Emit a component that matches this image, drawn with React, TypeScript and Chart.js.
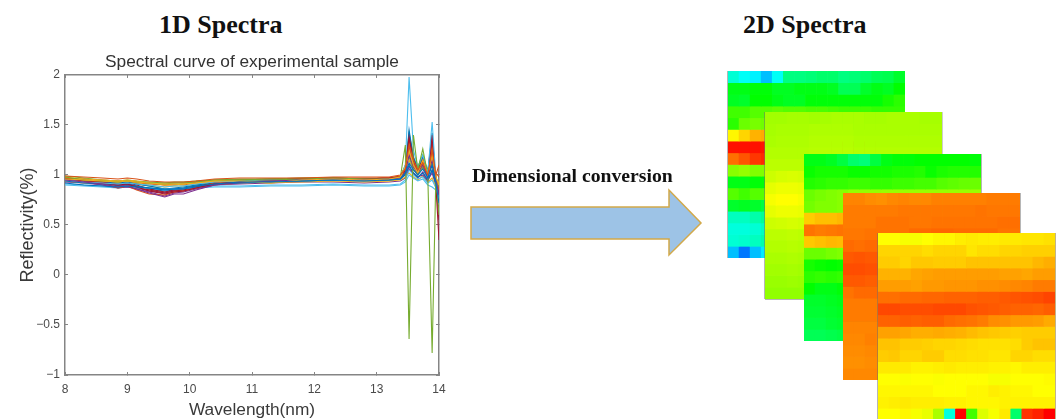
import React, { useEffect, useRef } from "react";
import { Chart, registerables } from "chart.js";

Chart.register(...registerables);

const wavelengths = [8, 8.3, 8.6, 8.85, 9, 9.15, 9.35, 9.6, 9.75, 9.9, 10.1, 10.4, 10.8, 11.3, 11.8, 12.3, 12.8, 13.2, 13.38, 13.46, 13.52, 13.59, 13.66, 13.74, 13.82, 13.89, 13.95, 14];

const lineColors = ["#0072BD", "#D95319", "#EDB120", "#7E2F8E", "#77AC30", "#4DBEEE", "#A2142F"];

const spectra: number[][] = [
  [.92, .90, .89, .88, .89, .88, .87, .86, .86, .87, .89, .91, .93, .93, .94, .95, .94, .95, .96, 1.02, 1.12, 1.05, 1.0, 1.06, .97, 1.1, .92, .72],
  [.99, .98, .97, .96, .97, .96, .94, .93, .93, .93, .94, .96, .97, .97, .97, .98, .98, .98, 1.0, 1.06, 1.3, 1.15, 1.05, 1.12, 1.0, 1.25, 1.0, 1.1],
  [.96, .95, .94, .93, .94, .93, .92, .91, .91, .91, .92, .94, .94, .92, .95, .96, .95, .96, .98, 1.08, 1.25, 1.1, 1.02, 1.15, 1.0, 1.2, .98, .9],
  [.95, .93, .91, .88, .89, .86, .82, .78, .81, .81, .85, .90, .93, .94, .95, .96, .95, .96, .97, 1.02, 1.2, 1.08, 1.02, 1.1, .98, 1.15, .95, .8],
  [.98, .95, .94, .93, .94, .93, .92, .91, .92, .92, .93, .95, .95, .95, .96, .97, .96, .96, .98, 1.3, -.64, 1.4, 1.05, 1.26, 1.0, -.78, 1.0, .6],
  [.95, .93, .92, .91, .92, .91, .90, .88, .89, .89, .91, .93, .94, .95, .95, .95, .95, .96, .97, 1.1, 1.98, 1.25, 1.08, 1.2, 1.02, 1.53, .98, .7],
  [.96, .94, .92, .90, .91, .88, .84, .81, .83, .84, .87, .91, .93, .95, .96, .96, .96, .97, .98, 1.05, 1.38, 1.15, 1.05, 1.15, 1.0, 1.4, .9, .35],
  [.94, .92, .91, .90, .91, .89, .87, .85, .86, .86, .88, .91, .92, .93, .94, .95, .95, .95, .96, 1.0, 1.1, 1.02, .98, 1.02, .95, 1.05, .9, .78],
  [.97, .95, .92, .87, .89, .85, .81, .80, .83, .84, .87, .92, .94, .95, .95, .96, .96, .97, .99, 1.08, 1.32, 1.12, 1.04, 1.13, .99, 1.28, .96, .85],
  [.98, .96, .95, .94, .95, .94, .92, .90, .90, .91, .92, .94, .93, .92, .94, .96, .94, .94, .97, 1.06, 1.22, 1.08, 1.02, 1.1, 1.0, 1.18, .97, .92],
  [.95, .93, .90, .87, .88, .86, .83, .79, .82, .83, .86, .90, .92, .94, .95, .96, .95, .96, .97, 1.04, 1.28, 1.1, 1.03, 1.12, .97, 1.22, .94, .82],
  [.99, .97, .95, .94, .95, .94, .93, .92, .93, .93, .94, .95, .95, .96, .96, .97, .96, .96, .98, 1.1, 1.18, 1.06, 1.0, 1.08, .98, 1.12, .96, .88],
  [.90, .89, .88, .87, .88, .87, .87, .86, .86, .87, .87, .88, .88, .89, .89, .90, .89, .89, .90, .93, 1.0, .97, .94, .96, .90, .88, .85, .75],
  [.96, .94, .93, .90, .91, .88, .85, .82, .84, .85, .88, .92, .94, .95, .96, .97, .96, .97, .98, 1.06, 1.35, 1.14, 1.06, 1.14, 1.0, 1.32, .93, .6],
  [.95, .94, .93, .92, .93, .91, .89, .86, .87, .88, .90, .92, .93, .94, .95, .95, .95, .96, .97, 1.04, 1.45, 1.17, 1.07, 1.18, 1.03, 1.42, .92, .76],
  [.97, .96, .95, .94, .94, .93, .92, .90, .90, .91, .93, .94, .95, .95, .96, .96, .96, .97, .99, 1.08, 1.26, 1.12, 1.03, 1.1, 1.0, 1.2, 1.02, .98],
  [.96, .95, .94, .92, .93, .92, .90, .88, .89, .89, .91, .93, .93, .93, .95, .96, .96, .96, .97, 1.03, 1.15, 1.05, 1.01, 1.08, .98, 1.1, .95, .9],
  [.96, .94, .92, .89, .90, .87, .84, .82, .84, .84, .87, .91, .93, .95, .96, .96, .96, .96, .97, 1.0, 1.08, 1.02, .98, 1.0, .94, 1.05, .92, .84],
  [.97, .95, .94, .93, .94, .93, .92, .92, .92, .92, .93, .95, .96, .96, .97, .97, .96, .96, .98, 1.05, 1.22, 1.1, 1.03, 1.12, .99, 1.16, .97, .86],
  [.91, .90, .89, .88, .89, .88, .87, .85, .86, .86, .88, .89, .89, .90, .90, .91, .90, .90, .91, .95, 1.05, 1.0, .96, .98, .92, .95, .87, .78],
  [.96, .94, .93, .91, .92, .90, .86, .83, .85, .86, .88, .92, .94, .95, .96, .96, .96, .97, .98, 1.05, 1.3, 1.12, 1.04, 1.16, 1.0, 1.36, .92, .55],
  [.95, .93, .92, .90, .91, .89, .86, .84, .85, .86, .89, .92, .93, .94, .94, .95, .94, .95, .96, 1.02, 1.4, 1.16, 1.05, 1.17, 1.0, 1.3, .94, .8],
  [.97, .96, .94, .93, .93, .92, .91, .90, .91, .90, .92, .94, .95, .96, .97, .97, .97, .97, .98, 1.09, 1.36, 1.13, 1.06, 1.14, 1.02, 1.26, .97, .87],
  [.94, .92, .91, .89, .90, .88, .85, .83, .84, .85, .87, .90, .92, .93, .93, .94, .93, .94, .95, .98, 1.02, .98, .95, .99, .93, .97, .88, .8],
  [.93, .92, .90, .89, .90, .88, .87, .85, .85, .86, .88, .90, .91, .92, .93, .93, .92, .93, .94, .97, 1.06, 1.01, .97, 1.03, .95, 1.02, .9, .74],
  [.96, .95, .93, .91, .92, .91, .89, .86, .86, .87, .90, .93, .95, .96, .96, .97, .96, .97, .98, 1.07, 1.42, 1.18, 1.08, 1.2, 1.04, 1.38, .95, .83],
];

// Heatmap cell values: hue in degrees, row by row from the top
const stackA: number[][] = [
  [170, 178, 183, 195, 178, 150, 150, 148, 145, 145, 150, 148, 145, 140, 138, 130],
  [125, 125, 122, 122, 128, 128, 125, 125, 125, 128, 140, 140, 130, 125, 128, 120],
  [128, 130, 120, 120, 125, 128, 128, 122, 122, 122, 122, 122, 122, 122, 115, 110],
  [105, 105, 100, 100, 98, 100, 100, 102, 102, 104, 106, 106, 106, 108, 108, 108],
  [110, 95, 92, 94, 96, 96, 98, 98, 100, 100, 100, 102, 102, 102, 104, 104],
  [58, 50, 42, 40, 44, 46, 48, 50, 52, 52, 54, 54, 56, 56, 58, 58],
  [4, 4, 4, 5, 3, 4, 4, 4, 5, 5, 6, 6, 6, 8, 8, 8],
  [26, 20, 13, 10, 10, 12, 12, 14, 14, 16, 16, 18, 18, 20, 20, 22],
  [88, 85, 90, 90, 92, 92, 94, 94, 94, 96, 96, 98, 98, 100, 100, 100],
  [125, 125, 122, 122, 120, 120, 120, 118, 118, 118, 116, 116, 116, 115, 115, 115],
  [100, 105, 100, 100, 102, 102, 104, 104, 104, 106, 106, 106, 108, 108, 108, 108],
  [130, 128, 130, 135, 132, 132, 130, 130, 128, 128, 128, 126, 126, 126, 125, 125],
  [165, 165, 160, 155, 155, 152, 152, 150, 150, 148, 148, 146, 146, 145, 145, 144],
  [172, 172, 170, 165, 165, 162, 162, 160, 160, 158, 158, 156, 156, 155, 155, 154],
  [170, 168, 165, 160, 160, 158, 158, 156, 156, 154, 154, 152, 152, 150, 150, 150],
  [195, 212, 195, 185, 180, 178, 176, 176, 175, 175, 174, 174, 172, 172, 170, 170],
];
const stackB: number[][] = [
  [82, 82, 81, 81, 82, 81, 80, 80, 80, 81, 81, 80, 80, 80, 81, 81],
  [81, 80, 80, 80, 79, 79, 79, 79, 80, 80, 80, 80, 80, 80, 80, 80],
  [80, 79, 79, 79, 78, 78, 78, 78, 79, 79, 79, 79, 79, 79, 79, 79],
  [78, 78, 78, 78, 77, 77, 77, 77, 78, 78, 78, 78, 78, 78, 78, 78],
  [76, 76, 76, 76, 76, 76, 76, 76, 77, 77, 77, 77, 77, 77, 77, 77],
  [72, 70, 69, 70, 72, 72, 74, 74, 74, 74, 75, 75, 75, 75, 75, 75],
  [66, 64, 64, 65, 68, 68, 70, 70, 71, 71, 72, 72, 72, 72, 73, 73],
  [62, 60, 60, 62, 65, 65, 68, 68, 69, 69, 70, 70, 70, 70, 71, 71],
  [66, 64, 64, 65, 68, 68, 70, 70, 71, 71, 72, 72, 72, 72, 73, 73],
  [72, 71, 70, 71, 72, 72, 74, 74, 74, 74, 75, 75, 75, 75, 75, 75],
  [76, 76, 75, 76, 76, 76, 77, 77, 77, 77, 78, 78, 78, 78, 78, 78],
  [78, 78, 77, 78, 78, 78, 79, 79, 79, 79, 80, 80, 80, 80, 80, 80],
  [80, 80, 79, 80, 80, 80, 81, 81, 81, 81, 82, 82, 82, 82, 82, 82],
  [82, 82, 81, 82, 82, 82, 83, 83, 83, 83, 84, 84, 84, 84, 84, 84],
  [84, 84, 83, 84, 84, 84, 85, 85, 85, 85, 86, 86, 86, 86, 86, 86],
  [86, 86, 86, 86, 86, 86, 87, 87, 87, 87, 88, 88, 88, 88, 88, 88],
];
const stackC: number[][] = [
  [125, 125, 128, 135, 145, 148, 135, 125, 122, 122, 120, 120, 120, 120, 120, 122],
  [118, 115, 115, 115, 118, 118, 116, 116, 114, 114, 112, 118, 114, 112, 112, 112],
  [112, 110, 108, 108, 106, 106, 108, 108, 106, 106, 104, 104, 100, 98, 96, 95],
  [95, 92, 90, 88, 85, 85, 85, 84, 84, 84, 84, 84, 84, 84, 84, 84],
  [93, 90, 90, 88, 86, 86, 86, 86, 86, 86, 86, 86, 86, 86, 86, 86],
  [48, 45, 45, 43, 43, 44, 44, 44, 45, 45, 46, 46, 46, 46, 47, 47],
  [27, 29, 28, 27, 25, 26, 26, 26, 27, 27, 28, 28, 28, 28, 29, 29],
  [47, 45, 43, 44, 44, 44, 44, 45, 45, 45, 46, 46, 46, 47, 47, 47],
  [95, 95, 92, 90, 90, 90, 92, 92, 92, 94, 94, 94, 94, 96, 96, 96],
  [115, 118, 120, 118, 118, 118, 118, 116, 116, 116, 116, 114, 114, 114, 114, 114],
  [110, 108, 110, 108, 108, 108, 110, 110, 110, 110, 110, 112, 112, 112, 112, 112],
  [120, 125, 125, 122, 122, 122, 122, 120, 120, 120, 120, 120, 118, 118, 118, 118],
  [130, 130, 128, 126, 126, 126, 125, 125, 125, 124, 124, 124, 124, 122, 122, 122],
  [132, 132, 130, 128, 128, 128, 128, 126, 126, 126, 126, 125, 125, 125, 125, 125],
  [135, 135, 132, 130, 130, 130, 130, 128, 128, 128, 128, 126, 126, 126, 126, 126],
  [140, 140, 138, 136, 136, 136, 134, 134, 134, 132, 132, 132, 130, 130, 130, 130],
];
const stackD: number[][] = [
  [31, 31, 33, 34, 32, 31, 32, 32, 30, 30, 30, 30, 30, 29, 29, 29],
  [29, 29, 29, 29, 29, 28, 28, 28, 28, 28, 28, 28, 27, 28, 28, 28],
  [29, 29, 29, 27, 27, 27, 28, 28, 27, 27, 27, 27, 27, 27, 26, 26],
  [28, 28, 27, 27, 27, 27, 25, 25, 24, 24, 25, 25, 25, 25, 27, 27],
  [25, 26, 25, 25, 25, 25, 25, 25, 25, 25, 25, 25, 25, 25, 25, 25],
  [21, 20, 21, 21, 21, 21, 21, 21, 22, 22, 22, 22, 23, 23, 23, 23],
  [18, 18, 19, 19, 19, 19, 20, 20, 20, 20, 20, 20, 20, 21, 21, 21],
  [21, 21, 22, 22, 22, 22, 22, 22, 23, 23, 23, 24, 24, 24, 24, 24],
  [27, 25, 25, 25, 25, 26, 26, 26, 27, 27, 27, 27, 28, 28, 28, 28],
  [29, 29, 29, 29, 29, 29, 29, 30, 30, 30, 30, 30, 30, 30, 30, 30],
  [29, 29, 29, 29, 30, 30, 30, 30, 30, 30, 31, 31, 31, 31, 31, 31],
  [31, 31, 31, 31, 31, 31, 32, 32, 32, 32, 32, 32, 32, 32, 32, 32],
  [32, 32, 30, 31, 31, 32, 32, 32, 32, 32, 33, 33, 33, 33, 33, 33],
  [33, 33, 32, 32, 32, 32, 32, 33, 33, 33, 33, 33, 33, 33, 33, 33],
  [34, 34, 33, 33, 33, 33, 33, 33, 33, 34, 34, 34, 34, 34, 34, 34],
  [32, 32, 32, 32, 32, 32, 32, 33, 33, 33, 33, 33, 33, 33, 33, 33],
];
const stackE: number[][] = [
  [60, 60, 62, 62, 60, 58, 58, 56, 55, 56, 56, 55, 55, 54, 54, 53],
  [50, 50, 50, 50, 52, 50, 50, 50, 54, 52, 52, 50, 50, 49, 49, 49],
  [48, 48, 50, 47, 47, 48, 48, 48, 46, 46, 46, 46, 46, 46, 43, 41],
  [42, 42, 42, 39, 38, 37, 37, 37, 37, 37, 37, 38, 38, 39, 37, 37],
  [37, 37, 37, 38, 36, 36, 35, 35, 35, 34, 34, 33, 32, 31, 29, 29],
  [26, 26, 25, 25, 24, 24, 23, 23, 23, 22, 22, 21, 20, 19, 18, 16],
  [17, 17, 18, 18, 18, 17, 17, 17, 19, 20, 21, 22, 23, 23, 24, 22],
  [23, 23, 22, 23, 22, 22, 25, 26, 27, 29, 33, 34, 36, 36, 37, 40],
  [38, 38, 39, 41, 41, 40, 41, 42, 44, 46, 47, 48, 49, 48, 48, 48],
  [46, 46, 48, 48, 49, 50, 50, 51, 52, 53, 53, 53, 52, 48, 46, 46],
  [48, 47, 50, 50, 48, 48, 52, 52, 53, 53, 54, 54, 50, 50, 52, 52],
  [55, 55, 55, 57, 57, 56, 55, 56, 56, 56, 57, 57, 58, 56, 56, 56],
  [60, 60, 61, 60, 60, 61, 60, 60, 60, 60, 62, 62, 60, 60, 60, 59],
  [58, 58, 58, 58, 58, 60, 60, 60, 58, 58, 56, 57, 58, 58, 60, 60],
  [57, 56, 55, 56, 56, 56, 57, 57, 58, 58, 58, 57, 57, 57, 57, 57],
  [60, 60, 58, 62, 65, 80, 172, 0, 105, 68, 62, 55, 145, 12, 8, 0],
];

const GREY_EDGE = "rgba(110,110,110,0.5)";
const stacks = [
  { cells: stackA, left: 728, top: 71, edge: `-1px 0 0 ${GREY_EDGE}` },
  { cells: stackB, left: 765, top: 112, edge: `-1px 0 0 ${GREY_EDGE}, 1px 0 0 rgba(110,110,110,0.35), 0 1px 0 ${GREY_EDGE}` },
  { cells: stackC, left: 804, top: 154, edge: `1px 0 0 ${GREY_EDGE}` },
  { cells: stackD, left: 843, top: 193, edge: `1px 0 0 ${GREY_EDGE}` },
  { cells: stackE, left: 878, top: 233, edge: `-1px 0 0 ${GREY_EDGE}, 1px 0 0 rgba(150,130,60,0.6)` },
];

const AXIS = "#858585";
const TICK_TEXT = "#4a4a4a";
const SANS = "'Liberation Sans', Arial, sans-serif";
const SERIF = "'Liberation Serif', 'Times New Roman', serif";

function SpectraChart() {
  const ref = useRef<HTMLCanvasElement>(null);
  useEffect(() => {
    const chart = new Chart(ref.current!, {
      type: "line",
      data: {
        labels: wavelengths,
        datasets: spectra.map((values, i) => ({
          data: values.map((y, k) => ({ x: wavelengths[k], y })),
          borderColor: lineColors[i % lineColors.length],
          borderWidth: 1.1,
          pointRadius: 0,
          tension: 0,
        })),
      },
      options: {
        responsive: false,
        animation: false,
        layout: { padding: 0 },
        plugins: {
          legend: { display: false },
          tooltip: { enabled: false },
          title: {
            display: true,
            text: "Spectral curve of experimental sample",
            color: "#333",
            font: { family: SANS, size: 17.3, weight: "normal" },
            padding: { top: 52.2, bottom: 2 },
          },
        },
        scales: {
          x: {
            type: "linear",
            min: 8,
            max: 14,
            position: "bottom",
            afterFit: (s: any) => { s.height = 46; },
            border: { color: AXIS, width: 1.5 },
            grid: { drawOnChartArea: false, tickLength: -3, color: AXIS },
            ticks: { stepSize: 1, padding: 10.5, maxRotation: 0, color: TICK_TEXT, font: { family: SANS, size: 12 } },
            title: { display: true, text: "Wavelength(nm)", color: "#3a3a3a", font: { family: SANS, size: 17.3 }, padding: 0 },
          },
          x2: {
            type: "linear",
            min: 8,
            max: 14,
            position: "top",
            afterFit: (s: any) => { s.height = 0; },
            border: { color: AXIS, width: 1.5 },
            grid: { drawOnChartArea: false, tickLength: -3, color: AXIS },
            ticks: { stepSize: 1, display: false },
          },
          y: {
            type: "linear",
            min: -1,
            max: 2,
            position: "left",
            afterFit: (s: any) => { s.width = 65; },
            border: { color: AXIS, width: 1.5 },
            grid: { drawOnChartArea: false, tickLength: -3, color: AXIS },
            ticks: {
              stepSize: 0.5,
              padding: 8,
              color: TICK_TEXT,
              font: { family: SANS, size: 12 },
              callback: (v: any) => String(v).replace("-", "\u2212"),
            },
            title: { display: true, text: "Reflectivity(%)", color: "#3a3a3a", font: { family: SANS, size: 18 }, padding: { top: 17, bottom: 0 } },
          },
          y2: {
            type: "linear",
            min: -1,
            max: 2,
            position: "right",
            afterFit: (s: any) => { s.width = 65; },
            border: { color: AXIS, width: 1.5 },
            grid: { drawOnChartArea: false, tickLength: -3, color: AXIS },
            ticks: { stepSize: 0.5, display: false },
          },
        },
      },
    } as any);
    return () => chart.destroy();
  }, []);
  return (
    <canvas
      ref={ref}
      width={504}
      height={421}
      style={{ position: "absolute", left: 0, top: 0, filter: "blur(0.7px)" }}
    />
  );
}

function CellStack({ cells, left, top, z, edge }: { cells: number[][]; left: number; top: number; z: number; edge: string }) {
  const ref = useRef<HTMLCanvasElement>(null);
  useEffect(() => {
    const chart = new Chart(ref.current!, {
      type: "bar",
      data: {
        labels: cells[0].map((_, c) => c),
        datasets: cells.map((row) => ({
          data: row.map(() => 1),
          backgroundColor: row.map((h) => `hsl(${h}, 100%, 50%)`),
          borderWidth: 0,
          barPercentage: 1,
          categoryPercentage: 1,
        })),
      },
      options: {
        responsive: false,
        animation: false,
        layout: { padding: 0 },
        plugins: { legend: { display: false }, tooltip: { enabled: false } },
        scales: {
          x: { stacked: true, display: false },
          y: { stacked: true, display: false, reverse: true, min: 0, max: 16 },
        },
      },
    } as any);
    return () => chart.destroy();
  }, [cells]);
  return (
    <canvas
      ref={ref}
      width={177}
      height={187}
      style={{ position: "absolute", left, top, zIndex: z, filter: "blur(0.6px)", boxShadow: edge }}
    />
  );
}

export default function App() {
  return (
    <div style={{ position: "fixed", left: 0, top: 0, width: 1062, height: 419, overflow: "hidden", background: "#fff" }}>
      <div style={{ position: "absolute", left: 159, top: 10, fontFamily: SERIF, fontWeight: 700, fontSize: 26, lineHeight: "30px", color: "#111", whiteSpace: "nowrap" }}>1D Spectra</div>
      <div style={{ position: "absolute", left: 743, top: 10, fontFamily: SERIF, fontWeight: 700, fontSize: 26, lineHeight: "30px", color: "#111", whiteSpace: "nowrap" }}>2D Spectra</div>
      <SpectraChart />
      <div style={{ position: "absolute", left: 472, top: 164, fontFamily: SERIF, fontWeight: 700, fontSize: 19.7, lineHeight: "22px", color: "#111", whiteSpace: "nowrap" }}>Dimensional conversion</div>
      <svg width={1062} height={419} style={{ position: "absolute", left: 0, top: 0, pointerEvents: "none" }}>
        <polygon points="471,207 669,207 669,190 701,223 669,255 669,239 471,239" fill="#9DC3E6" stroke="#D2A94A" strokeWidth={1.5} />
      </svg>
      {stacks.map((s, i) => (
        <CellStack key={i} cells={s.cells} left={s.left} top={s.top} z={i + 1} edge={s.edge} />
      ))}
    </div>
  );
}
